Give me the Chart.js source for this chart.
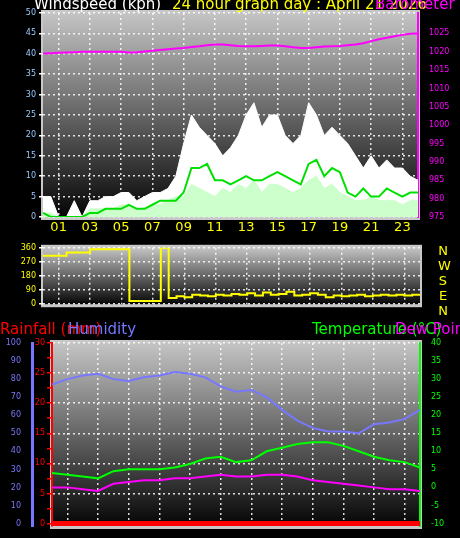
<!DOCTYPE html><html><head><meta charset="utf-8">
<script src="https://cdn.jsdelivr.net/npm/chart.js@4"></script>
<style>
body{margin:0;background:#000;width:460px;height:538px;overflow:hidden;position:relative;font-family:"DejaVu Sans",sans-serif}
canvas{position:absolute;left:0}
.t{position:absolute;white-space:nowrap;font-size:15px;line-height:15px}
</style></head><body>
<canvas id="c1" style="top:0px" width="460" height="240"></canvas>
<canvas id="c2" style="top:240px" width="460" height="72"></canvas>
<canvas id="c3" style="top:312px" width="460" height="226"></canvas>
<div class="t" style="left:34px;top:-3px;color:#fff">Windspeed (kph)</div>
<div class="t" style="left:172px;top:-3px;color:#ff0">24 hour graph day : April 21 2026</div>
<div class="t" style="left:375px;top:-3px;color:#f0f">Barometer (hPa)</div>
<div class="t" style="left:438px;top:243px;color:#ff0;font-size:13px;line-height:15px;width:10px;text-align:center">N<br>W<br>S<br>E<br>N</div>
<div class="t" style="left:0;top:322px;color:#f00">Rainfall (mm)</div>
<div class="t" style="left:68px;top:322px;color:#77f">Humidity</div>
<div class="t" style="left:312px;top:322px;color:#0f0">Temperature (°C)</div>
<div class="t" style="left:395px;top:322px;color:#f0f">Dew Point</div>
<script>
const halfHours=Array.from({length:49},(_,i)=>i/2);
const gust=[5,5,0,0,4,0,4,4,5,5,6,6,4,5,6,6,7,10,18,25,22,20,18,15,17,20,25,28,22,25,25,20,18,20,28,25,20,22,20,18,15,12,15,12,14,12,12,10,9];
const meanWind=[1,1,0,0,0,0,2,2,2,2,3,3,2,2,3,3,4,5,5,8,7,6,5,7,6,8,7,9,6,8,8,7,6,7,9,10,7,8,6,5,4,4,5,4,4,4,3,4,4];
const avgWind=[1,0,0,0,0,0,1,1,2,2,2,3,2,2,3,4,4,4,6,12,12,13,9,9,8,9,10,9,9,10,11,10,9,8,13,14,10,12,11,6,5,7,5,5,7,6,5,6,6];
const pressure=[1019.5,1019.6,1019.7,1019.8,1019.9,1020,1020,1020,1020,1020,1020,1019.8,1019.9,1020.1,1020.3,1020.5,1020.7,1020.9,1021,1021.3,1021.5,1021.8,1022,1022,1021.8,1021.6,1021.5,1021.5,1021.6,1021.7,1021.7,1021.5,1021.2,1021,1021,1021.2,1021.4,1021.5,1021.6,1021.8,1022,1022.3,1022.9,1023.4,1023.8,1024.2,1024.6,1024.9,1025];
const direction=[310,310,310,330,330,330,350,350,350,350,350,20,20,20,20,360,40,50,45,60,55,50,60,55,65,60,70,55,75,60,65,80,55,60,70,60,45,55,50,55,60,50,55,60,55,60,55,60,55];
const hours=Array.from({length:25},(_,i)=>i);
const humidity=[77,80,82,83,80,79,81,82,84,83,81,76,73,74,70,63,57,53,51,51,50,55,56,58,63];
const temperature=[4,3.5,3,2.5,4.5,5,5,5,5.5,6.5,8,8.5,7,7.5,10,11,12,12.5,12.5,11.5,10,8.5,7.5,7,5.5];
const dewPoint=[0,0,-0.5,-1,1,1.5,2,2,2.5,2.5,3,3.5,3,3,3.5,3.5,3,2,1.5,1,0.5,0,-0.5,-0.5,-1];
const rain=hours.map(()=>0);
const xy=(xs,ys)=>xs.map((x,i)=>({x,y:ys[i]}));
const bg={id:'bg',beforeDraw(c){const a=c.chartArea,g=c.ctx;const gr=g.createLinearGradient(0,a.top,0,a.bottom);gr.addColorStop(0,'#c4c4c4');gr.addColorStop(1,'#050505');g.save();g.fillStyle='#c8c8c8';g.fillRect(a.left-2,a.top-3,a.width+4,a.height+6);g.fillStyle=gr;g.fillRect(a.left,a.top,a.width,a.height);g.restore();}};
Chart.defaults.animation=false;Chart.defaults.font.family='DejaVu Sans';
const ln=(data,color,w,extra)=>Object.assign({data,borderColor:color,borderWidth:w,pointRadius:0,tension:0},extra||{});
const fixW=w=>function(s){s.width=w};const fixH=h=>function(s){s.height=h};
const stepTicks=(a,b,s)=>function(sc){const t=[];for(let v=a;v<=b+1e-9;v+=s)t.push({value:v});sc.ticks=t;};
const WG='rgba(255,255,255,0.85)';
function xAxis(h,show){return{type:'linear',min:0,max:24,afterFit:fixH(h),
 ticks:{stepSize:1,autoSkip:false,maxRotation:0,color:'#ff0',font:{size:13},display:show,callback:v=>v%2===1?String(v).padStart(2,'0'):''},
 grid:{color:c=>c.tick&&c.tick.value%2===1?WG:'transparent',lineWidth:1.5,drawTicks:false},border:{display:false,dash:[2,3]}};}
const yGrid={color:WG,lineWidth:1.5,tickColor:'#fff',tickLength:4};
new Chart(c1,{type:'line',plugins:[bg],data:{datasets:[
 ln(xy(halfHours,avgWind),'#00e000',2),
 ln(xy(halfHours,meanWind),'#ccffcc',1,{fill:'origin',backgroundColor:'#ccffcc'}),
 ln(xy(halfHours,gust),'#fff',1,{fill:'origin',backgroundColor:'#fff'}),
 ln(xy(halfHours,pressure),'#ff00ff',2,{yAxisID:'yPress'})]},
 options:{responsive:false,layout:{padding:{top:13}},plugins:{legend:{display:false},tooltip:{enabled:false}},
 scales:{x:xAxis(23,true),
  y:{min:0,max:50,afterFit:fixW(43),ticks:{stepSize:5,color:'#9cf',font:{size:8}},grid:yGrid,border:{display:false,dash:[2,3]}},
  yPress:{position:'right',min:975,max:975+50*50/45,afterFit:fixW(42),ticks:{stepSize:5,color:'#f0f',font:{size:8},callback:v=>v>1027?'':v},grid:{display:false,tickColor:'#f0f'},border:{color:'#f0f',width:2}}}}});
new Chart(c2,{type:'line',plugins:[bg],data:{datasets:[ln(xy(halfHours,direction),'#ff0',2,{stepped:true})]},
 options:{responsive:false,layout:{padding:{top:5,bottom:5}},plugins:{legend:{display:false},tooltip:{enabled:false}},
 scales:{x:xAxis(0,false),
  y:{min:0,max:360,afterFit:fixW(43),ticks:{stepSize:90,color:'#ff0',font:{size:8}},grid:yGrid,border:{display:false,dash:[2,3]}},
  y2:{position:'right',afterFit:fixW(40),ticks:{display:false},grid:{display:false},border:{display:false}}}}});
new Chart(c3,{type:'line',plugins:[bg],data:{datasets:[
 ln(xy(hours,rain),'#ff0000',5,{yAxisID:'yRain'}),
 ln(xy(hours,humidity),'#7777ff',2,{yAxisID:'yHum'}),
 ln(xy(hours,temperature),'#00ff00',2,{yAxisID:'yTemp'}),
 ln(xy(hours,dewPoint),'#ff00ff',2,{yAxisID:'yTemp'})]},
 options:{responsive:false,layout:{padding:{top:31}},plugins:{legend:{display:false},tooltip:{enabled:false}},
 scales:{x:xAxis(12,false),
  yRain:{position:'left',min:-0.4,max:30,afterFit:fixW(20),afterBuildTicks:stepTicks(0,30,2.5),ticks:{color:'#f00',font:{size:8},padding:2,callback:v=>v%5===0?v:''},grid:{color:c=>c.tick&&c.tick.value%5===0?WG:'transparent',lineWidth:1.5,tickColor:'#f00',tickLength:5},border:{color:'#f00',width:2,dash:[2,3]}},
  yHum:{position:'left',min:-1.3,max:100,afterFit:fixW(32),afterBuildTicks:stepTicks(0,100,10),ticks:{color:'#77f',font:{size:8}},grid:{display:false,tickColor:'#77f'},border:{color:'#77f',width:3}},
  yTemp:{position:'right',min:-10.7,max:40,afterFit:fixW(40),afterBuildTicks:stepTicks(-10,40,5),ticks:{color:'#0f0',font:{size:8}},grid:{display:false,tickColor:'#0f0'},border:{color:'#0f0',width:2}}}}});
</script></body></html>
